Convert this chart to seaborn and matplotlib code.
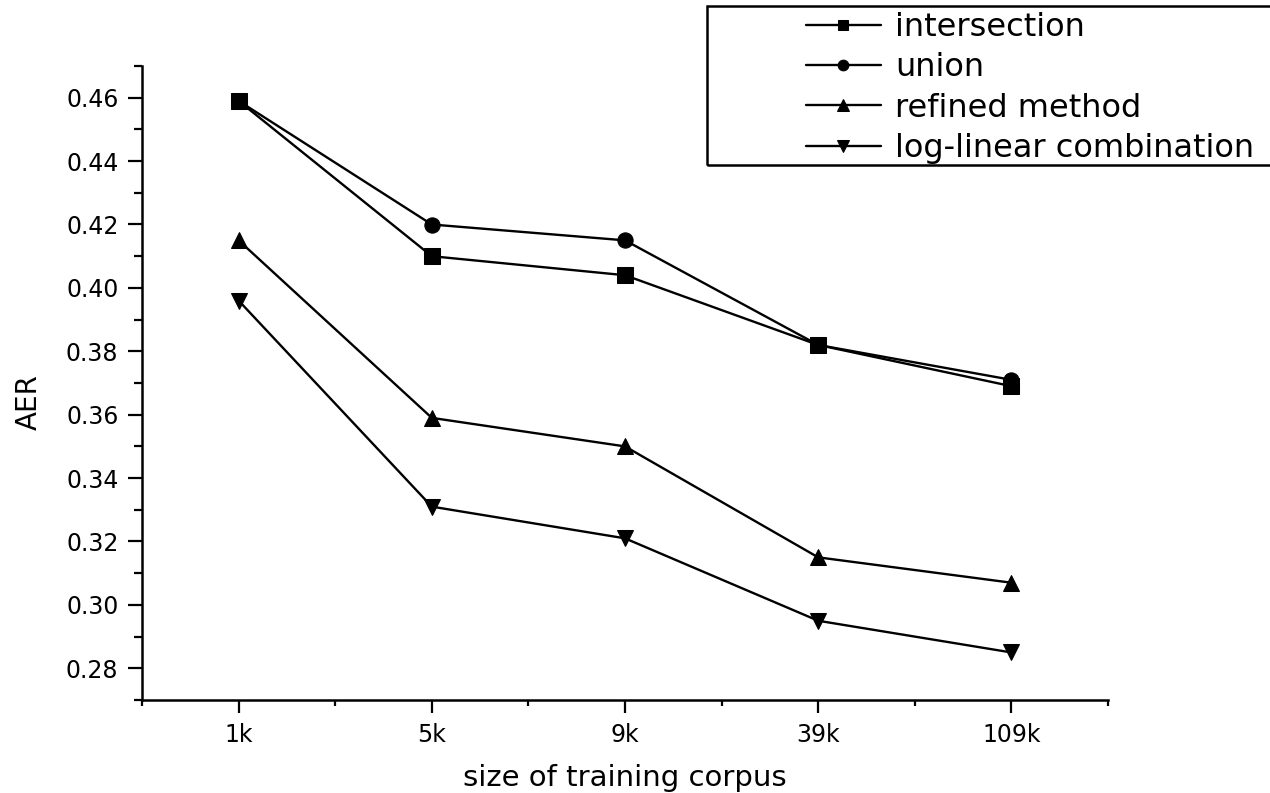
import numpy as np
import pandas as pd
import matplotlib
matplotlib.use("Agg")
import matplotlib.pyplot as plt
from matplotlib.ticker import MultipleLocator, FixedLocator, FormatStrFormatter
from matplotlib.patches import Rectangle
import seaborn as sns

corpus_sizes = ["1k", "5k", "9k", "39k", "109k"]
intersection = [0.459, 0.410, 0.404, 0.382, 0.369]
union = [0.459, 0.420, 0.415, 0.382, 0.371]
refined = [0.415, 0.359, 0.350, 0.315, 0.307]
log_linear = [0.396, 0.331, 0.321, 0.295, 0.285]

series_names = ["intersection", "union", "refined method", "log-linear combination"]
series_values = [intersection, union, refined, log_linear]
series_markers = ["s", "o", "^", "v"]

sns.set_style("ticks")
plt.rcParams['font.family'] = ['DejaVu Sans']
plt.rcParams['text.color'] = 'black'
plt.rcParams['axes.labelcolor'] = 'black'
plt.rcParams['xtick.color'] = 'black'
plt.rcParams['ytick.color'] = 'black'
plt.rcParams['axes.edgecolor'] = 'black'

rows = []
for name, vals in zip(series_names, series_values):
    for size, v in zip(corpus_sizes, vals):
        rows.append({'size': size, 'AER': v, 'method': name})
df = pd.DataFrame(rows)

fig = plt.figure(figsize=(12.7, 7.93), dpi=100)
ax = fig.add_axes([142 / 1270, 93 / 793, 966 / 1270, 634 / 793])

for name, marker in zip(series_names, series_markers):
    sub = df[df['method'] == name]
    msize = 12 if marker in ("^", "v") else 11
    sns.lineplot(data=sub, x='size', y='AER', sort=False, ax=ax, color='black',
                 marker=marker, markersize=msize, markeredgecolor='black',
                 linewidth=1.7, label=name)

ax.set_xlim(-0.5, len(corpus_sizes) - 0.5)
ax.set_ylim(0.27, 0.47)
ax.yaxis.set_major_locator(MultipleLocator(0.02))
ax.yaxis.set_minor_locator(MultipleLocator(0.01))
ax.yaxis.set_major_formatter(FormatStrFormatter('%.2f'))
ax.xaxis.set_minor_locator(FixedLocator(np.arange(-0.5, len(corpus_sizes), 1.0)))

for s in ['top', 'right']:
    ax.spines[s].set_visible(False)
for s in ['left', 'bottom']:
    ax.spines[s].set_linewidth(1.8)

ax.tick_params(axis='y', which='major', length=10, width=1.6, pad=7, labelsize=17)
ax.tick_params(axis='y', which='minor', length=6, width=1.6)
ax.tick_params(axis='x', which='major', length=9.5, width=1.6, pad=7, labelsize=17)
ax.tick_params(axis='x', which='minor', length=4.5, width=1.6)

ax.set_xlabel('size of training corpus', fontsize=21, labelpad=12)
ax.set_ylabel('AER', fontsize=20)
ax.yaxis.set_label_coords(-0.1025, 0.47)

handles, labels = ax.get_legend_handles_labels()
ax.legend(handles, labels, loc='upper left', bbox_to_anchor=(777 / 1270, 1.021),
          bbox_transform=fig.transFigure, frameon=False, fontsize=23,
          handlelength=2.35, handletextpad=0.45, labelspacing=0.29,
          markerscale=0.7)

fig.add_artist(Rectangle((707 / 1270, (793 - 165) / 793), 0.5, 159 / 793,
                         transform=fig.transFigure, fill=False,
                         edgecolor='black', linewidth=1.8))

fig.savefig('out.png', dpi=100)
